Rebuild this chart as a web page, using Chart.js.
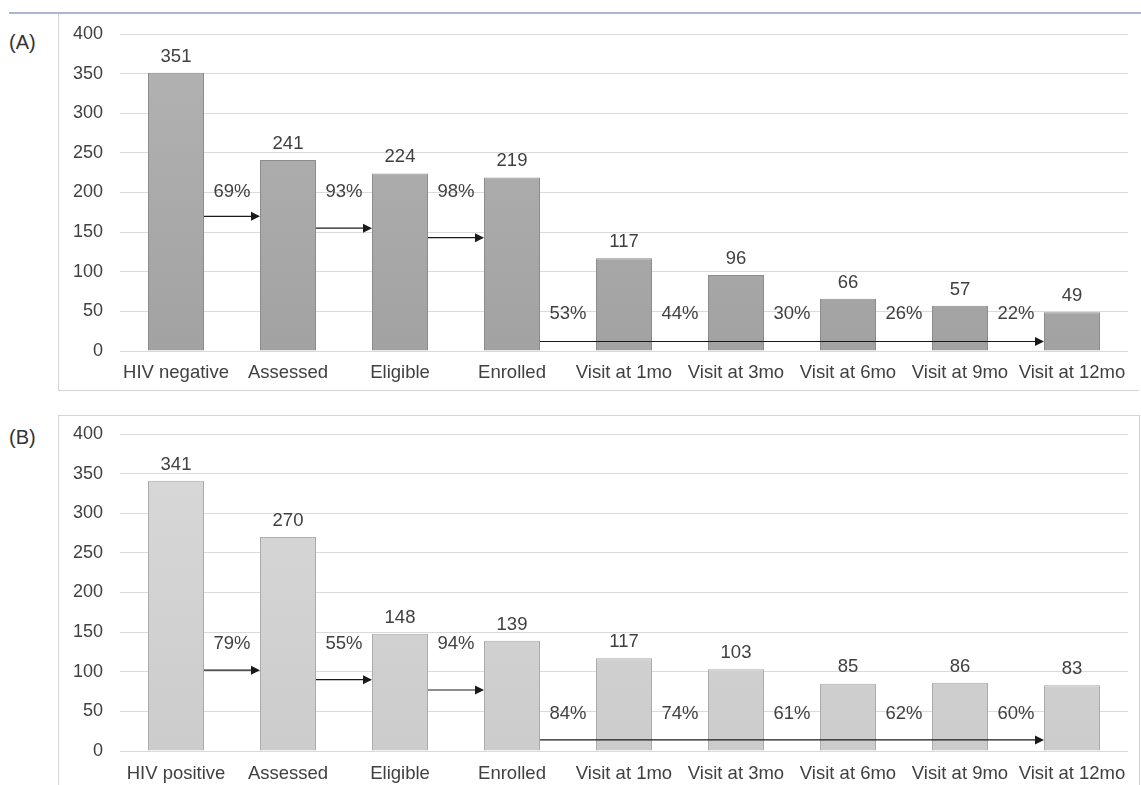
<!DOCTYPE html>
<html>
<head>
<meta charset="utf-8">
<script src="https://cdn.jsdelivr.net/npm/chart.js@4"></script>
<style>
  body{margin:0;background:#fff;font-family:"Liberation Sans",Arial,sans-serif;}
  #topline{position:absolute;left:9px;top:12px;width:1132px;height:2px;background:#a9b5d3;}
  .panel{position:absolute;left:58px;width:1080px;border-left:1px solid #d4d4d4;}
  #pa{top:14px;height:376px;border-bottom:1px solid #d4d4d4;}
  #pb{top:415px;height:370px;border-top:1px solid #d4d4d4;border-right:1px solid #d4d4d4;}
  .tag{position:absolute;left:9px;font-size:20px;color:#333;}
  canvas{display:block;}
</style>
</head>
<body>
<div id="topline"></div>
<div class="tag" style="top:31px">(A)</div>
<div class="tag" style="top:426px">(B)</div>
<div class="panel" id="pa"><canvas id="chartA"></canvas></div>
<div class="panel" id="pb"><canvas id="chartB"></canvas></div>
<script>
// data
const stepsA = ['HIV negative','Assessed','Eligible','Enrolled','Visit at 1mo','Visit at 3mo','Visit at 6mo','Visit at 9mo','Visit at 12mo'];
const stepsB = ['HIV positive','Assessed','Eligible','Enrolled','Visit at 1mo','Visit at 3mo','Visit at 6mo','Visit at 9mo','Visit at 12mo'];
const countsA = [351,241,224,219,117,96,66,57,49];
const countsB = [341,270,148,139,117,103,85,86,83];
const pctA = ['69%','93%','98%','53%','44%','30%','26%','22%'];
const pctB = ['79%','55%','94%','84%','74%','61%','62%','60%'];
// y level (in counts) of the step arrows and of the long retention arrow
const arrowLevelsA = [170,155,143];
const arrowLevelsB = [102,90,77];
const longArrowA = 12;
const longArrowB = 14;
// y level of the percent labels: first three, then the retention row
const pctLevelsA = [201,47];
const pctLevelsB = [135,47];
const yTicks = [0,50,100,150,200,250,300,350,400];

const FONT = '"Liberation Sans", Arial, sans-serif';

function arrow(ctx, x1, x2, y){
  ctx.beginPath();
  ctx.moveTo(x1, y); ctx.lineTo(x2 - 7, y);
  ctx.stroke();
  ctx.beginPath();
  ctx.moveTo(x2, y); ctx.lineTo(x2 - 9, y - 4.5); ctx.lineTo(x2 - 9, y + 4.5);
  ctx.closePath(); ctx.fill();
}

const funnelPlugin = {
  id:'funnel',
  afterDatasetsDraw(chart, args, o){
    const ctx = chart.ctx, x = chart.scales.x, y = chart.scales.y;
    const bars = chart.getDatasetMeta(0).data;
    ctx.save();
    ctx.font = '18.5px ' + FONT;
    ctx.fillStyle = '#404040';
    ctx.textAlign = 'center';
    ctx.textBaseline = 'bottom';
    bars.forEach((b, i) => ctx.fillText(o.counts[i], b.x, b.y - 7));
    ctx.textBaseline = 'middle';
    o.pct.forEach((p, i) => {
      const xm = (x.getPixelForValue(i) + x.getPixelForValue(i + 1)) / 2;
      const lv = i < 3 ? o.pctLevels[0] : o.pctLevels[1];
      ctx.fillText(p, xm, y.getPixelForValue(lv));
    });
    ctx.strokeStyle = '#1a1a1a'; ctx.fillStyle = '#1a1a1a'; ctx.lineWidth = 1.2;
    const half = i => bars[i].width / 2;
    o.arrows.forEach((lv, i) => {
      arrow(ctx, bars[i].x + half(i), bars[i + 1].x - half(i + 1), y.getPixelForValue(lv));
    });
    const last = bars.length - 1;
    arrow(ctx, bars[3].x + half(3), bars[last].x - half(last), y.getPixelForValue(o.longArrow));
    ctx.restore();
  }
};

function makeChart(id, labels, counts, top, bottom, border, opts, xh, padTop, xpad){
  const ctx = document.getElementById(id).getContext('2d');
  return new Chart(ctx, {
    type:'bar',
    data:{labels, datasets:[{
      data:counts,
      backgroundColor: c => {
        const a = c.chart.chartArea;
        if(!a) return top;
        const g = c.chart.ctx.createLinearGradient(0, a.top, 0, a.bottom);
        g.addColorStop(0, top); g.addColorStop(1, bottom);
        return g;
      },
      borderColor:border, borderWidth:1,
      categoryPercentage:1, barPercentage:0.5
    }]},
    options:{
      responsive:true, maintainAspectRatio:false, animation:false,
      layout:{padding:{top:padTop, right:11, left:0, bottom:0}},
      plugins:{legend:{display:false}, tooltip:{enabled:false}, funnel:opts},
      scales:{
        x:{grid:{display:false}, border:{display:false},
           ticks:{color:'#404040', font:{size:18.5, family:FONT}, padding:xpad, maxRotation:0, autoSkip:false},
           afterFit:s => { s.height = xh; s.paddingLeft = 0; s.paddingRight = 0; }},
        y:{min:0, max:400, afterBuildTicks:s => { s.ticks = yTicks.map(v => ({value:v})); },
           grid:{color:'#dadada', drawTicks:false}, border:{display:false},
           ticks:{color:'#404040', font:{size:18, family:FONT}, padding:17},
           afterFit:s => { s.width = 61; s.paddingTop = 0; s.paddingBottom = 0; }}
      }
    },
    plugins:[funnelPlugin]
  });
}

makeChart('chartA', stepsA, countsA, '#b3b3b3', '#a2a2a2', '#8c8c8c',
  {counts:countsA, pct:pctA, pctLevels:pctLevelsA, arrows:arrowLevelsA, longArrow:longArrowA}, 39, 20, 3);
makeChart('chartB', stepsB, countsB, '#d9d9d9', '#cccccc', '#ababab',
  {counts:countsB, pct:pctB, pctLevels:pctLevelsB, arrows:arrowLevelsB, longArrow:longArrowB}, 35, 18, 4);
</script>
</body>
</html>
